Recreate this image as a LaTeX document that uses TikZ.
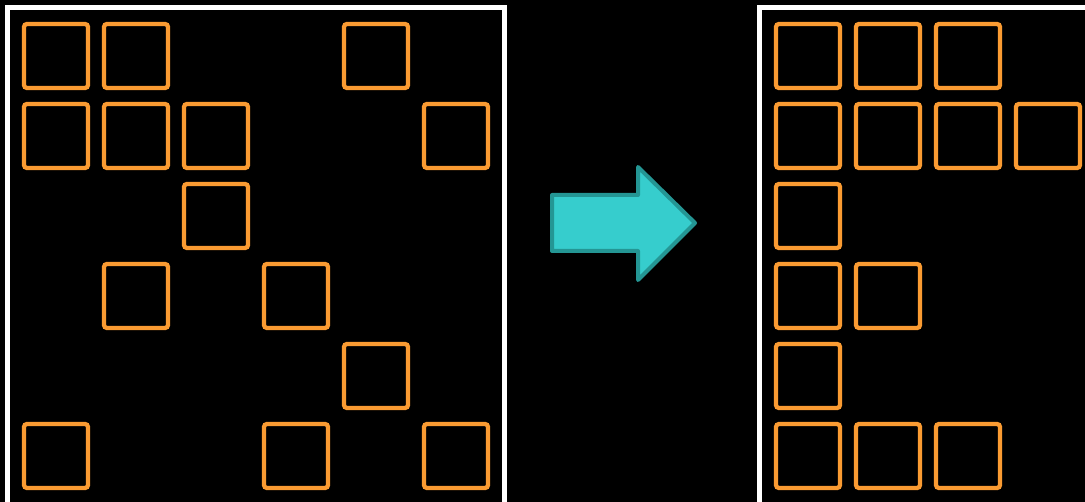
\documentclass[tikz,border=0pt]{standalone}
\usetikzlibrary{calc}

\definecolor{cellorange}{RGB}{250,155,50}
\definecolor{arrowfill}{RGB}{54,205,205}
\definecolor{arrowedge}{RGB}{36,150,148}

\begin{document}
\begin{tikzpicture}[
    x=1pt, y=-1pt,
    % Panel and cell styles
    panel/.style={draw=white, line width=5pt, minimum size=496.5pt, inner sep=0pt, outer sep=0pt},
    cell/.style={draw=cellorange, line width=4.3pt, rounded corners=3pt, minimum size=64pt, inner sep=0pt, outer sep=0pt},
    % Arrow style
    bigarrow/.style={fill=arrowfill, draw=arrowedge, line width=4pt, line join=round}
]

\fill[black] (0,0) rectangle (1085,502);
\clip (0,0) rectangle (1085,502);

% --- LEFT PANEL (scattered) ---
\node[panel] (before) at (256,256) {};
\foreach \r/\c in {0/0,0/1,0/4,1/0,1/1,1/2,1/5,2/2,3/1,3/3,4/4,5/0,5/3,5/5}
    \node[cell] (L-\r-\c) at ({56+80*\c},{56+80*\r}) {};

% --- RIGHT PANEL (packed to the left) ---
\node[panel] (after) at (1008,256) {};
\foreach \r/\c in {0/0,0/1,0/2,1/0,1/1,1/2,1/3,2/0,3/0,3/1,4/0,5/0,5/1,5/2}
    \node[cell] (R-\r-\c) at ({808+80*\c},{56+80*\r}) {};

% --- ARROW ---
\coordinate (tail) at (552,223);
\coordinate (tip) at (695,223);
\draw[bigarrow] ($(tail)+(0,-28)$) -- ($(tip)+(-57,-28)$) -- ($(tip)+(-57,-56)$)
    -- (tip) -- ($(tip)+(-57,57)$) -- ($(tip)+(-57,28)$) -- ($(tail)+(0,28)$) -- cycle;

\end{tikzpicture}
\end{document}
